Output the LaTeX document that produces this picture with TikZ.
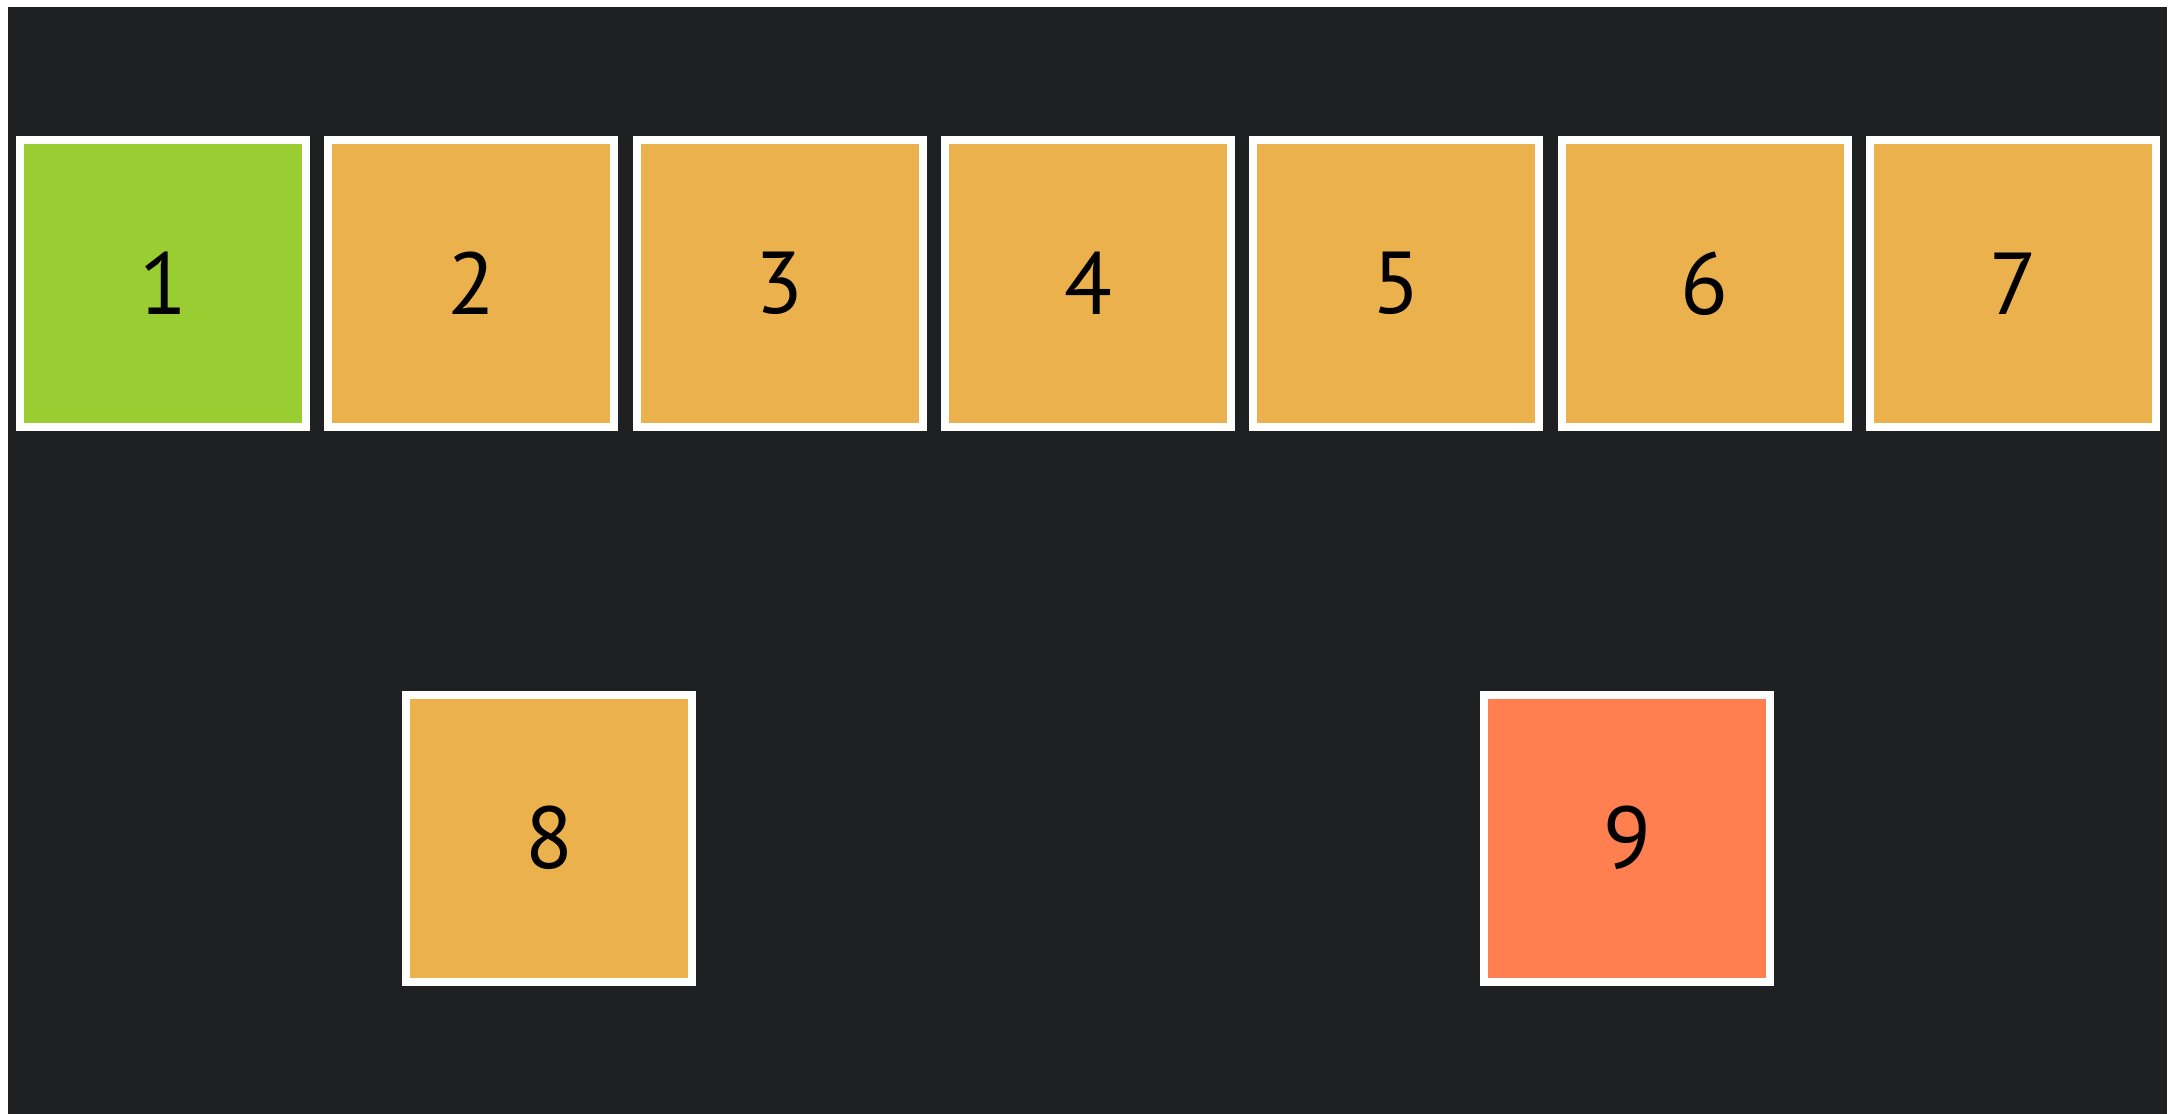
\documentclass[tikz,border=0pt]{standalone}
\usepackage{fontspec}
\setmainfont{PT Sans}
\definecolor{bgdark}{HTML}{1F2022}
\definecolor{boxgreen}{HTML}{9ACD32}
\definecolor{boxorange}{HTML}{EBB14C}
\definecolor{boxcoral}{HTML}{FF7F50}
\tikzset{
  cell/.style={draw=white, line width=0.08cm, minimum width=2.86cm, minimum height=2.87cm,
    inner sep=0pt, outer sep=0pt, text=black, font=\fontsize{25}{25}\selectfont},
  greencell/.style={cell, fill=boxgreen},
  orangecell/.style={cell, fill=boxorange},
  coralcell/.style={cell, fill=boxcoral}
}
\begin{document}
\begin{tikzpicture}
\useasboundingbox (0,0) rectangle (21.81,-11.13);
\fill[white] (0,0) rectangle (21.81,-11.13);
\fill[bgdark] (0.08,-0.07) rectangle (21.67,-11.3);
\node[greencell]  (n1) at (1.63,-2.835) {1};
\node[orangecell] (n2) at (4.713,-2.835) {2};
\node[orangecell] (n3) at (7.797,-2.835) {3};
\node[orangecell] (n4) at (10.88,-2.835) {4};
\node[orangecell] (n5) at (13.963,-2.835) {5};
\node[orangecell] (n6) at (17.047,-2.835) {6};
\node[orangecell] (n7) at (20.13,-2.835) {7};
\node[orangecell] (n8) at (5.49,-8.38) {8};
\node[coralcell]  (n9) at (16.27,-8.38) {9};
\end{tikzpicture}
\end{document}
